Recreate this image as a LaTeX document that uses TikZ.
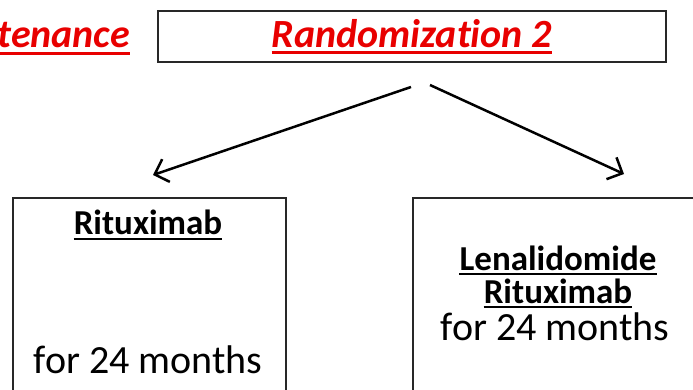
\documentclass[tikz,border=0pt]{standalone}
\usepackage{fontspec}
\setmainfont{Carlito}[RawFeature=-liga]
\usetikzlibrary{arrows.meta}
\definecolor{headred}{RGB}{232,0,0}
\definecolor{frame}{RGB}{40,40,40}
\begin{document}
\begin{tikzpicture}[x=1pt,y=-1pt,
  box/.style={draw=frame, line width=2pt, fill=white, inner sep=0pt},
  headtxt/.style={inner sep=0pt, text=headred, font=\fontsize{40}{44}\selectfont\bfseries\itshape},
  armtxt/.style={inner sep=0pt, text=black, font=\fontsize{35}{40}\selectfont\bfseries},
  plaintxt/.style={inner sep=0pt, text=black, text height=28pt, font=\fontsize{40}{44}\selectfont},
  redline/.style={draw=headred, line width=3pt},
  blackline/.style={draw=black, line width=2.2pt},
  arr/.style={draw=black, line width=2.5pt, -{Straight Barb[length=12pt,width=24pt]}}]
\useasboundingbox (0,0) rectangle (693,389);
\clip (0,0) rectangle (693,389);

% boxes
\node[box, anchor=north west, minimum width=508pt, minimum height=51pt] (rand) at (157,10) {};
\node[box, anchor=north west, minimum width=273pt, minimum height=230pt] (armA) at (12,197) {};
\node[box, anchor=north west, minimum width=300pt, minimum height=230pt] (armB) at (412,197) {};

% headings
\node[headtxt, anchor=base east] (maint) at (130,47) {tenance};
\node[headtxt, anchor=base] (randtxt) at (412,47) {Randomization 2};
\draw[redline] ([yshift=-6pt]maint.base west) -- ([yshift=-6pt]maint.base east);
\draw[redline] ([yshift=-5pt]randtxt.base west) -- ([yshift=-5pt]randtxt.base east);

% arm A text
\node[armtxt, anchor=base] (ritA) at (148,234) {Rituximab};
\draw[blackline] ([yshift=-5pt]ritA.base west) -- ([yshift=-5pt]ritA.base east);
\node[plaintxt, anchor=base] (durA) at (148,373) {for 24 months};

% arm B text
\node[armtxt, anchor=base] (lenB) at (558,270) {Lenalidomide};
\draw[blackline] ([yshift=-4pt]lenB.base west) -- ([yshift=-4pt]lenB.base east);
\node[armtxt, anchor=base] (ritB) at (558,303) {Rituximab};
\draw[blackline] ([yshift=-4pt]ritB.base west) -- ([yshift=-4pt]ritB.base east);
\node[plaintxt, anchor=base] (durB) at (555,340) {for 24 months};

% branching arrows
\coordinate (splitL) at (411,87);
\coordinate (splitR) at (430,85);
\coordinate (tipA) at (153,175);
\coordinate (tipB) at (624,174);
\draw[arr] (splitL) -- (tipA);
\draw[arr] (splitR) -- (tipB);
\end{tikzpicture}
\end{document}
